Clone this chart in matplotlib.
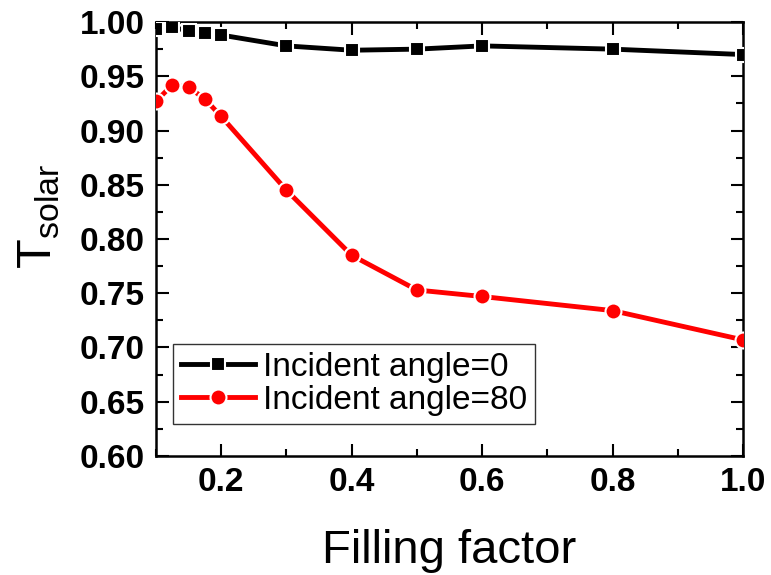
import matplotlib
matplotlib.use('Agg')
import matplotlib.pyplot as plt
from matplotlib.ticker import MultipleLocator

plt.rcParams['font.family'] = ['Liberation Sans', 'DejaVu Sans']

# filling factor values and solar transmittance for the two angles
filling = [0.1, 0.125, 0.15, 0.175, 0.2, 0.3, 0.4, 0.5, 0.6, 0.8, 1.0]
t_angle0 = [0.994, 0.995, 0.992, 0.990, 0.988, 0.978, 0.974, 0.975, 0.978, 0.975, 0.970]
t_angle80 = [0.927, 0.942, 0.940, 0.929, 0.913, 0.845, 0.785, 0.753, 0.747, 0.734, 0.707]
labels = ['Incident angle=0', 'Incident angle=80']

fig = plt.figure(figsize=(7.71, 5.75), dpi=100)
ax = fig.add_axes([0.2023, 0.207, 0.7614, 0.7547])

ax.plot(filling, t_angle0, color='black', lw=3.5, marker='s', ms=10,
        mec='white', mew=1.5, label=labels[0], zorder=3)
ax.plot(filling, t_angle80, color='red', lw=3.5, marker='o', ms=11.5,
        mec='white', mew=1.5, label=labels[1], zorder=3)

ax.set_xlim(0.1, 1.0)
ax.set_ylim(0.60, 1.00)
ax.xaxis.set_minor_locator(MultipleLocator(0.1))
ax.yaxis.set_major_locator(MultipleLocator(0.05))
ax.yaxis.set_minor_locator(MultipleLocator(0.025))
ax.set_xticks([0.2, 0.4, 0.6, 0.8, 1.0])
ax.set_xticklabels(['0.2', '0.4', '0.6', '0.8', '1.0'])
ax.yaxis.set_major_formatter(plt.FormatStrFormatter('%.2f'))

ax.tick_params(which='both', direction='in', top=True, right=True, width=1.5)
ax.tick_params(which='major', length=9, labelsize=24, pad=8)
ax.tick_params(which='minor', length=5)
for lab in ax.get_xticklabels() + ax.get_yticklabels():
    lab.set_fontweight('bold')
for sp in ax.spines.values():
    sp.set_linewidth(1.8)

ax.set_xlabel('Filling factor', fontsize=34, labelpad=22)
ax.set_ylabel(r'T$_{\mathregular{solar}}$', fontsize=35)
ax.yaxis.set_label_coords(-0.16, 0.553)

leg = ax.legend(loc='lower left', bbox_to_anchor=(0.029, 0.074), fontsize=24,
                frameon=True, fancybox=False, edgecolor='black',
                handlelength=2.2, borderpad=0.25, labelspacing=0.05,
                handletextpad=0.25, borderaxespad=0)
leg.get_frame().set_linewidth(1.0)

fig.savefig('out.png', dpi=100)
